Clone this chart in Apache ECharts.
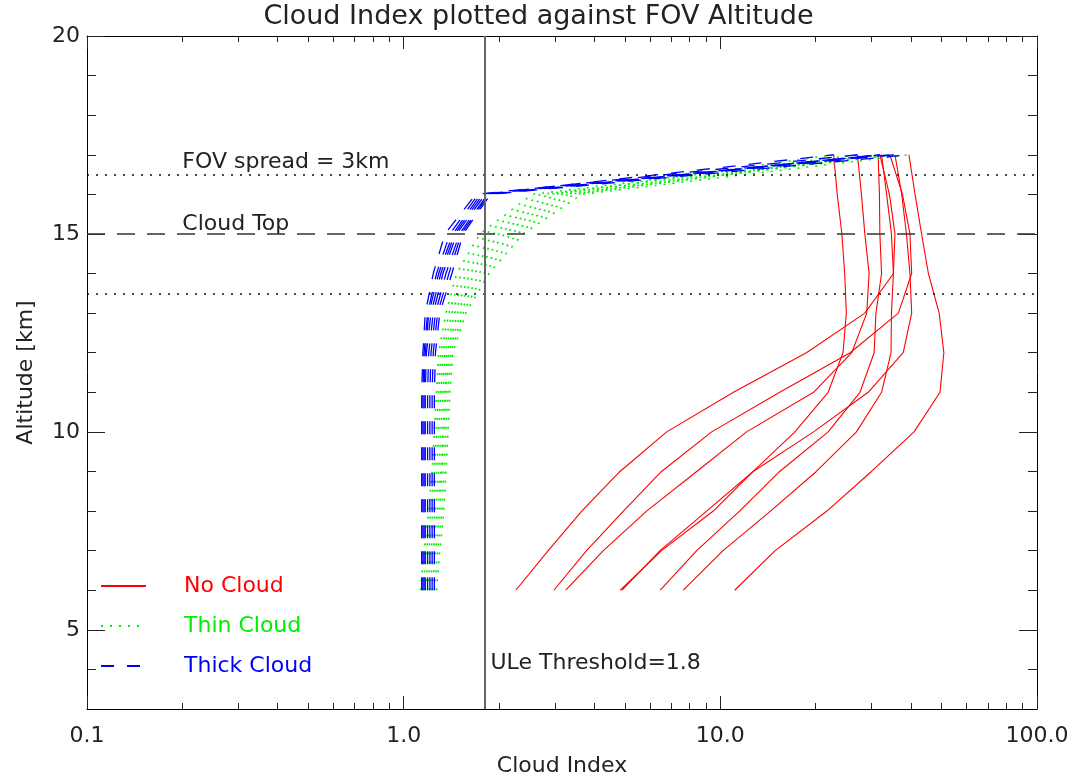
<!DOCTYPE html>
<html><head><meta charset="utf-8">
<script src="https://cdn.jsdelivr.net/npm/echarts@6/dist/echarts.min.js"></script>
<style>html,body{margin:0;padding:0;background:#fff}#c{width:1077px;height:782px}</style>
</head><body><div id="c"></div>
<script>
// ---------- data ----------
const altitudes = [6, 7, 8, 9, 10, 11, 12, 13, 14, 15, 16, 17];

const noCloud = [
  [2.26, 2.86, 3.65, 4.82, 6.77, 11.0, 18.7, 28.6, 35.2, 35.6, 34.2, 31.9],
  [2.98, 3.78, 4.94, 6.52, 9.39, 15.4, 25.7, 36.5, 40.2, 39.7, 37.6, 34.3],
  [3.25, 4.27, 5.85, 8.42, 12.1, 19.7, 26.0, 29.0, 29.5, 28.6, 27.9, 27.1],
  [4.83, 6.52, 9.50, 12.7, 17.2, 21.9, 24.4, 25.0, 24.7, 24.2, 23.4, 22.8],
  [4.89, 6.45, 9.05, 12.7, 19.7, 29.3, 37.8, 40.2, 39.7, 38.7, 37.4, 35.6],
  [6.46, 8.42, 11.5, 15.4, 21.9, 27.6, 30.6, 31.0, 32.3, 31.9, 31.8, 31.5],
  [7.64, 10.2, 14.4, 20.1, 26.9, 32.3, 34.6, 34.7, 35.2, 34.7, 33.5, 32.3],
  [11.1, 14.9, 21.7, 30.0, 40.9, 49.4, 50.8, 49.1, 45.4, 43.2, 41.2, 39.4]
];

const thinCloud = [
  [1.15, 1.18, 1.22, 1.25, 1.27, 1.29, 1.31, 1.39, 1.52, 1.82, 2.70, 31.9],
  [1.17, 1.20, 1.24, 1.27, 1.29, 1.31, 1.33, 1.42, 1.57, 1.92, 2.85, 34.3],
  [1.13, 1.16, 1.20, 1.23, 1.25, 1.27, 1.29, 1.36, 1.47, 1.74, 2.55, 27.1],
  [1.19, 1.22, 1.26, 1.29, 1.31, 1.33, 1.35, 1.45, 1.62, 2.00, 3.00, 22.8],
  [1.21, 1.24, 1.28, 1.31, 1.33, 1.35, 1.37, 1.48, 1.67, 2.08, 3.15, 35.6],
  [1.23, 1.26, 1.30, 1.32, 1.34, 1.36, 1.39, 1.51, 1.73, 2.18, 3.30, 31.5],
  [1.25, 1.28, 1.32, 1.34, 1.36, 1.38, 1.41, 1.54, 1.79, 2.28, 3.45, 32.3],
  [1.27, 1.30, 1.34, 1.36, 1.38, 1.40, 1.43, 1.57, 1.86, 2.38, 3.65, 39.4]
];

const thickCloud = [
  [1.15, 1.15, 1.15, 1.15, 1.15, 1.15, 1.16, 1.19, 1.27, 1.40, 1.72, 31.9],
  [1.16, 1.16, 1.16, 1.16, 1.16, 1.16, 1.17, 1.20, 1.29, 1.43, 1.75, 34.3],
  [1.14, 1.14, 1.14, 1.14, 1.14, 1.14, 1.15, 1.17, 1.24, 1.35, 1.69, 27.1],
  [1.17, 1.17, 1.17, 1.17, 1.17, 1.17, 1.18, 1.22, 1.31, 1.45, 1.78, 22.8],
  [1.19, 1.19, 1.19, 1.19, 1.19, 1.19, 1.20, 1.24, 1.33, 1.47, 1.81, 35.6],
  [1.21, 1.21, 1.21, 1.21, 1.21, 1.21, 1.22, 1.26, 1.36, 1.50, 1.84, 31.5],
  [1.23, 1.23, 1.23, 1.23, 1.23, 1.23, 1.24, 1.28, 1.39, 1.52, 1.86, 32.3],
  [1.25, 1.25, 1.25, 1.25, 1.25, 1.25, 1.26, 1.30, 1.42, 1.54, 1.88, 39.4]
];

const xMajorTicks = [0.1, 1, 10, 100];
const xMinorTicks = [0.2, 0.3, 0.4, 0.5, 0.6, 0.7, 0.8, 0.9,
                     2, 3, 4, 5, 6, 7, 8, 9,
                     20, 30, 40, 50, 60, 70, 80, 90];
const yMajorTicks = [5, 10, 15, 20];
const yMinorTicks = [4, 6, 7, 8, 9, 11, 12, 13, 14, 16, 17, 18, 19];

const threshold = 1.8;
const cloudTop = 15;
const fovSpread = 3;
const fovLevels = [cloudTop - fovSpread / 2, cloudTop + fovSpread / 2];

const legendNames = ['No Cloud', 'Thin Cloud', 'Thick Cloud'];
const texts = {
  title: 'Cloud Index plotted against FOV Altitude',
  xName: 'Cloud Index',
  yName: 'Altitude [km]',
  fov: 'FOV spread = 3km',
  cloud: 'Cloud Top',
  thr: 'ULe Threshold=1.8'
};

// ---------- chart ----------
const FONT = 'DejaVu Sans';
const TXT = '#222';
const chart = echarts.init(document.getElementById('c'), null, { renderer: 'canvas' });

function groupSeries(rows, name, color, lineStyle) {
  return rows.map(r => ({
    type: 'line',
    name: name,
    xAxisIndex: 0, yAxisIndex: 0,
    data: altitudes.map((a, i) => [r[i], a]),
    symbol: 'none',
    smooth: false,
    silent: true,
    animation: false,
    lineStyle: Object.assign({ color: color }, lineStyle),
    itemStyle: { color: color }
  }));
}

function xAxisDef(pos, ticks, len, main) {
  return {
    type: 'log', logBase: 10, min: 0.1, max: 100, position: pos, gridIndex: 0,
    axisLine: { show: main, onZero: false, lineStyle: { color: '#000', width: 1 } },
    axisTick: { show: true, inside: true, length: len, customValues: ticks,
                lineStyle: { color: '#222', width: 1 } },
    axisLabel: main && pos === 'bottom' ? {
      show: true, customValues: xMajorTicks, formatter: v => Number(v).toFixed(1),
      margin: 16, fontSize: 22, color: TXT, fontFamily: FONT
    } : { show: false },
    splitLine: { show: false },
    minorTick: { show: false },
    name: main && pos === 'bottom' ? texts.xName : '',
    nameLocation: 'middle', nameGap: 46,
    nameTextStyle: { fontSize: 22, color: TXT, fontFamily: FONT }
  };
}
function yAxisDef(pos, ticks, len, main) {
  return {
    type: 'value', min: 3, max: 20, position: pos, gridIndex: 0,
    axisLine: { show: main, onZero: false, lineStyle: { color: '#000', width: 1 } },
    axisTick: { show: true, inside: true, length: len, customValues: ticks,
                lineStyle: { color: '#222', width: 1 } },
    axisLabel: main && pos === 'left' ? {
      show: true, customValues: yMajorTicks, margin: 7, fontSize: 22, color: TXT, fontFamily: FONT
    } : { show: false },
    splitLine: { show: false },
    name: main && pos === 'left' ? texts.yName : '',
    nameLocation: 'middle', nameGap: 50,
    nameTextStyle: { fontSize: 22, color: TXT, fontFamily: FONT }
  };
}

const series = [].concat(
  groupSeries(noCloud, legendNames[0], '#ff0000', { width: 1.1, type: 'solid' }),
  groupSeries(thinCloud, legendNames[1], '#00ee00', { width: 1.6, type: [2, 7] }),
  groupSeries(thickCloud, legendNames[2], '#0000ff', { width: 1.3, type: [13, 13] }),
  [{
    type: 'line', name: 'refs', xAxisIndex: 0, yAxisIndex: 0, data: [], silent: true,
    markLine: {
      silent: true, symbol: ['none', 'none'], label: { show: false }, animation: false,
      data: [
        { yAxis: fovLevels[0], lineStyle: { color: '#111', width: 1.5, type: [2, 7] } },
        { yAxis: fovLevels[1], lineStyle: { color: '#111', width: 1.5, type: [2, 7] } },
        { yAxis: cloudTop, lineStyle: { color: '#333', width: 1.5, type: [18, 12] } },
        { xAxis: threshold, lineStyle: { color: '#666', width: 2, type: 'solid' } }
      ]
    }
  }]
);

chart.setOption({
  animation: false,
  backgroundColor: '#fff',
  title: {
    text: texts.title, left: 'center', top: -2,
    textStyle: { fontSize: 27, fontWeight: 'normal', color: TXT, fontFamily: FONT }
  },
  grid: { left: 87, right: 40, top: 36, bottom: 71, containLabel: false },
  legend: {
    left: 100, top: 575, orient: 'vertical', padding: 0,
    itemWidth: 45, itemHeight: 14, itemGap: 18,
    itemStyle: { opacity: 0, borderWidth: 0 },
    data: [
      { name: legendNames[0], textStyle: { color: '#ff0000' } },
      { name: legendNames[1], textStyle: { color: '#00ee00' } },
      { name: legendNames[2], textStyle: { color: '#0000ff' } }
    ],
    textStyle: { fontSize: 22, fontFamily: FONT, padding: [0, 0, 0, 33] },
    selectedMode: false
  },
  xAxis: [
    xAxisDef('bottom', xMajorTicks, 13, true),
    xAxisDef('bottom', xMinorTicks, 6, false),
    xAxisDef('top', xMajorTicks, 13, true),
    xAxisDef('top', xMinorTicks, 6, false)
  ],
  yAxis: [
    yAxisDef('left', yMajorTicks, 18, true),
    yAxisDef('left', yMinorTicks, 9, false),
    yAxisDef('right', yMajorTicks, 18, true),
    yAxisDef('right', yMinorTicks, 9, false)
  ],
  series: series
});

// annotations placed in data coordinates
const p = (x, y) => chart.convertToPixel({ xAxisIndex: 0, yAxisIndex: 0 }, [x, y]);
const leftX = 0.2;
const aFov = p(leftX, fovLevels[1]);
const aCloud = p(leftX, cloudTop);
const aThr = p(threshold, 4.15);
const txtStyle = (s, c) => ({ text: s, fill: c || TXT, font: '22px "' + FONT + '"', textVerticalAlign: 'middle' });
chart.setOption({
  graphic: [
    { type: 'text', x: aFov[0], y: aFov[1] - 12, style: txtStyle(texts.fov), silent: true },
    { type: 'text', x: aCloud[0], y: aCloud[1] - 10, style: txtStyle(texts.cloud), silent: true },
    { type: 'text', x: aThr[0] + 6, y: aThr[1], style: txtStyle(texts.thr), silent: true }
  ]
});
</script>
</body></html>
